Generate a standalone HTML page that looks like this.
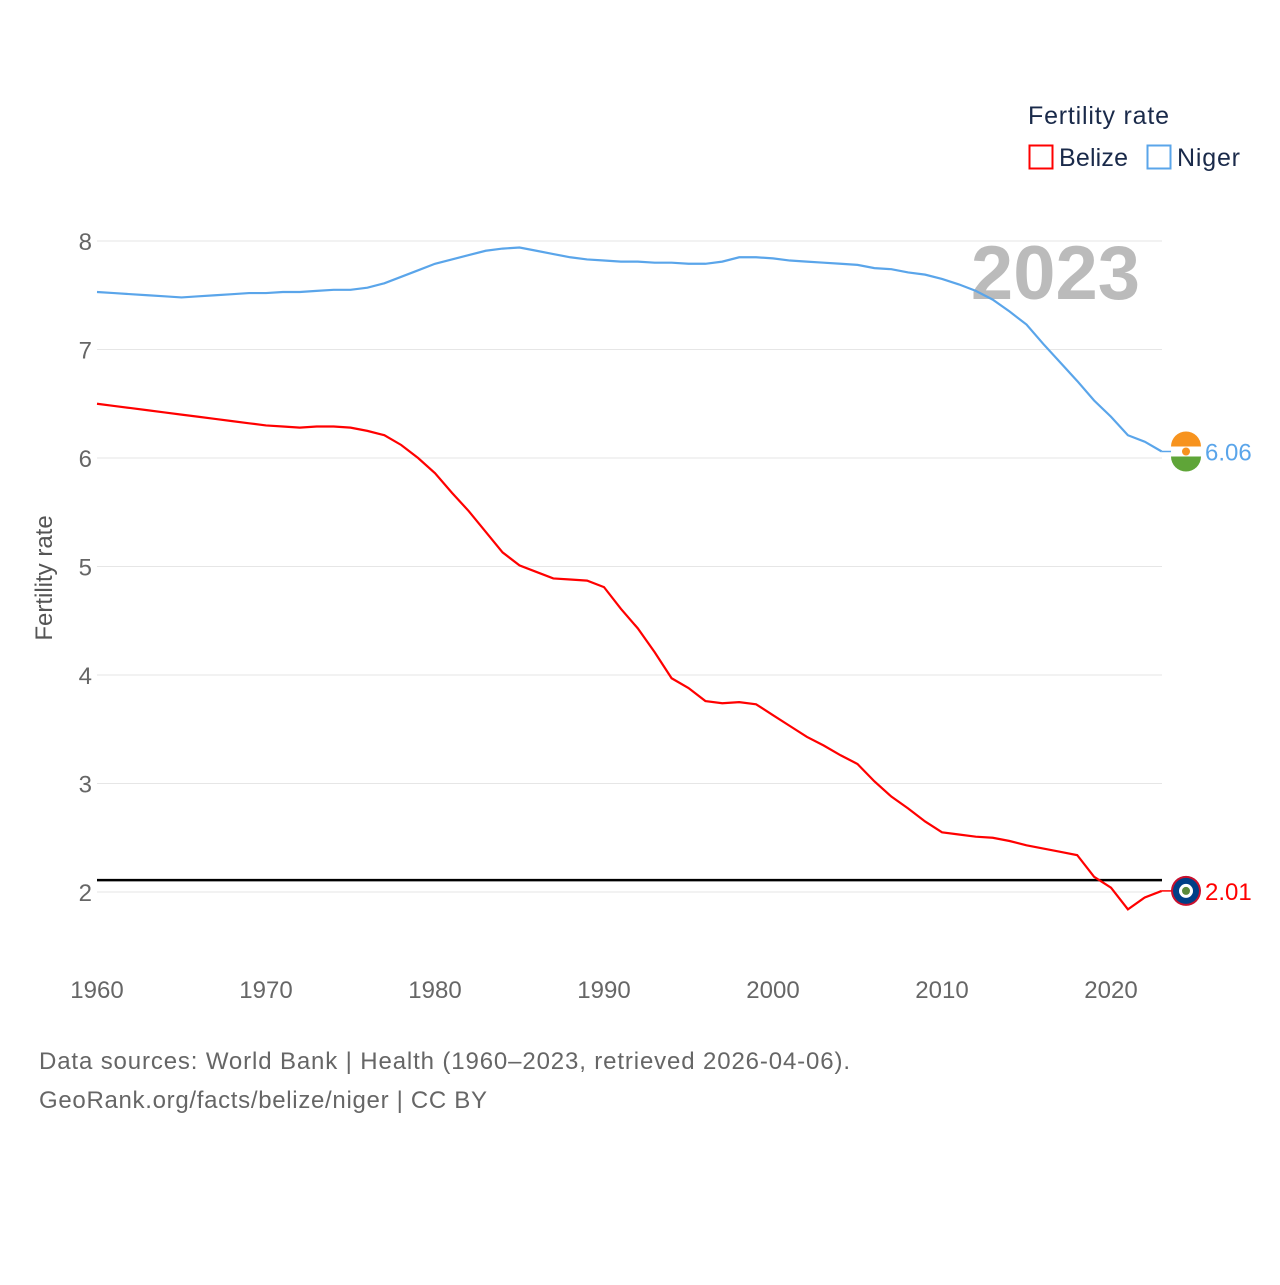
<!DOCTYPE html>
<html><head><meta charset="utf-8"><style>
body{margin:0;background:#fff;font-family:"Liberation Sans",sans-serif}
svg text{font-family:"Liberation Sans",sans-serif}
</style></head><body>
<svg width="1280" height="1280">
<g id="grid"></g>
<g id="yticks"></g>
<g id="xticks"></g>
<text x="52" y="578" font-size="24" fill="#555" text-anchor="middle" transform="rotate(-90 52 578)">Fertility rate</text>
<text x="1140" y="299" font-size="76" font-weight="bold" fill="#bbb" text-anchor="end">2023</text>
<g id="series"></g>
<g>
<text x="1028" y="124" font-size="25" fill="#1a2a4a" textLength="141">Fertility rate</text>
<g><rect x="1029.5" y="145.5" width="23" height="23" fill="none" stroke="#f00" stroke-width="2"/><text x="1059" y="166" font-size="25" fill="#1a2a4a" textLength="69">Belize</text></g>
<g><rect x="1147.5" y="145.5" width="23" height="23" fill="none" stroke="#5aa5ea" stroke-width="2"/><text x="1177" y="166" font-size="25" fill="#1a2a4a" textLength="63">Niger</text></g>
</g>
<text x="39" y="1069" font-size="24" fill="#666" textLength="811">Data sources: World Bank | Health (1960–2023, retrieved 2026-04-06).</text>
<text x="39" y="1108" font-size="24" fill="#666" textLength="448">GeoRank.org/facts/belize/niger | CC BY</text>
</svg>
<script>
const years=[];for(let y=1960;y<=2023;y++)years.push(y);
const niger=[7.53,7.52,7.51,7.50,7.49,7.48,7.49,7.50,7.51,7.52,7.52,7.53,7.53,7.54,7.55,7.55,7.57,7.61,7.67,7.73,7.79,7.83,7.87,7.91,7.93,7.94,7.91,7.88,7.85,7.83,7.82,7.81,7.81,7.80,7.80,7.79,7.79,7.81,7.85,7.85,7.84,7.82,7.81,7.80,7.79,7.78,7.75,7.74,7.71,7.69,7.65,7.60,7.54,7.46,7.35,7.23,7.05,6.88,6.71,6.53,6.38,6.21,6.15,6.06];
const belize=[6.50,6.48,6.46,6.44,6.42,6.40,6.38,6.36,6.34,6.32,6.30,6.29,6.28,6.29,6.29,6.28,6.25,6.21,6.12,6.00,5.86,5.68,5.51,5.32,5.13,5.01,4.95,4.89,4.88,4.87,4.81,4.61,4.43,4.21,3.97,3.88,3.76,3.74,3.75,3.73,3.63,3.53,3.43,3.35,3.26,3.18,3.02,2.88,2.77,2.65,2.55,2.53,2.51,2.50,2.47,2.43,2.40,2.37,2.34,2.14,2.04,1.84,1.95,2.01];
const yTicks=[2,3,4,5,6,7,8];
const xTicks=[1960,1970,1980,1990,2000,2010,2020];
const refLevel=2.11;
const NS="http://www.w3.org/2000/svg";
const X=y=>97+(y-1960)*16.9, Y=v=>892-(v-2)*108.5;
function mk(t,a,p){const e=document.createElementNS(NS,t);for(const k in a)e.setAttribute(k,a[k]);p.appendChild(e);return e;}
const grid=document.getElementById('grid'),yt=document.getElementById('yticks'),xt=document.getElementById('xticks'),s=document.getElementById('series');
yTicks.forEach(v=>{
const l=mk('line',{x1:97,x2:1162,y1:Y(v),y2:Y(v),stroke:'#e6e6e6','stroke-width':1},grid);


const t=mk('text',{x:92,y:Y(v)+9,'font-size':24,fill:'#666','text-anchor':'end'},yt);t.textContent=v;


});
xTicks.forEach(v=>{
const t=mk('text',{x:X(v),y:998,'font-size':24,fill:'#666','text-anchor':'middle'},xt);t.textContent=v;


});
const ref=mk('line',{x1:97,x2:1162,y1:Y(refLevel),y2:Y(refLevel),stroke:'#000','stroke-width':2.5},s);


function line(data,col,name){
const p=mk('polyline',{points:data.map((v,i)=>X(years[i])+','+Y(v)).join(' '),fill:'none',stroke:col,'stroke-width':2.2},s);


const last=data[data.length-1],cy=Y(last);
mk('line',{x1:X(2023),x2:1176,y1:cy,y2:cy,stroke:col,'stroke-width':1.5},s);
const lb=mk('text',{x:1205,y:cy+9,'font-size':24,fill:col},s);lb.textContent=last.toFixed(2);


return cy;
}
const cn=line(niger,'#5aa5ea','niger-line');
const cb=line(belize,'#f00','belize-line');
const fn=mk('g',{},s);


mk('circle',{cx:1186,cy:cn,r:15,fill:'#fff'},fn);
mk('path',{d:`M1171,${cn-5} A15,15 0 0 1 1201,${cn-5} Z`,fill:'#f7931e'},fn);
mk('path',{d:`M1171,${cn+5} A15,15 0 0 0 1201,${cn+5} Z`,fill:'#5fa538'},fn);
mk('circle',{cx:1186,cy:cn,r:4,fill:'#f7931e'},fn);
const fb=mk('g',{},s);


mk('circle',{cx:1186,cy:cb,r:15,fill:'#c8102e'},fb);
mk('circle',{cx:1186,cy:cb,r:13,fill:'#003f87'},fb);
mk('circle',{cx:1186,cy:cb,r:7,fill:'#fff'},fb);
mk('circle',{cx:1186,cy:cb,r:4,fill:'#5a8a3a'},fb);
</script>
</body></html>
